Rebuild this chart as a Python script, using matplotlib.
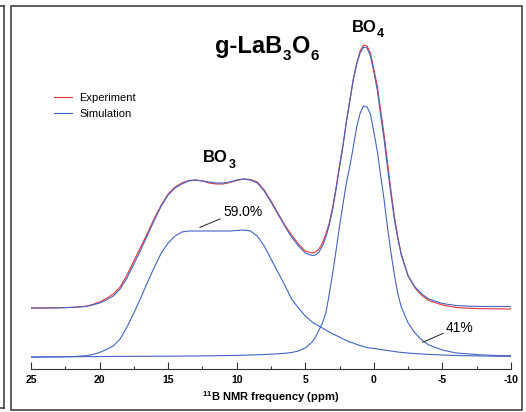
import matplotlib
matplotlib.use("Agg")
import matplotlib.pyplot as plt
from matplotlib.ticker import MultipleLocator
from matplotlib.patches import Rectangle
from matplotlib.lines import Line2D

plt.rcParams['font.family'] = ['Liberation Sans', 'DejaVu Sans']
plt.rcParams['mathtext.default'] = 'regular'
plt.rcParams['axes.unicode_minus'] = False

# chemical shift axis (ppm) and intensities
ppm = [25, 24, 23, 22, 21, 20.5, 20, 19.5, 19, 18.5, 18, 17.5, 17, 16.5, 16, 15.5,
       15, 14.5, 14, 13.5, 13, 12.5, 12, 11.5, 11, 10.5, 10, 9.5, 9, 8.5, 8, 7.5,
       7, 6.5, 6, 5.5, 5, 4.5, 4.25, 4, 3.75, 3.5, 3.25, 3, 2.75, 2.5, 2.25, 2, 1.75,
       1.5, 1.25, 1, 0.75, 0.5, 0.25, 0, -0.25, -0.5, -0.75, -1, -1.25, -1.5, -1.75,
       -2, -2.5, -3, -3.5, -4, -5, -6, -7, -8, -9, -10]

experiment = [49, 49, 49.2, 49.6, 50.8, 52.5, 55, 58.5, 63, 70, 82, 96, 110, 124, 139, 152,
              163, 170, 174, 176.5, 177, 176, 174, 173, 173, 174.5, 176.5, 178, 177.5, 175, 167, 156,
              144, 132, 122, 113, 106, 104, 105, 108, 114, 123, 134, 150, 170, 192, 212, 236, 257,
              278, 294, 306, 312, 311, 304, 288, 271, 246, 222, 194, 166, 140, 120,
              103, 81, 69, 61.5, 56.5, 52, 49.5, 48.7, 48.3, 48.2, 48]

simulation = [49, 49, 49.2, 49.6, 50.5, 52, 54, 57, 61, 68, 79, 93, 107, 122, 137, 151,
              162, 169, 173, 176, 177, 176, 175, 174, 174, 175, 177, 178, 177, 174, 166, 155,
              143, 131, 120, 111, 104, 101.5, 102, 105, 111, 120, 132, 148, 168, 190, 211, 235, 256,
              277, 293, 304, 310, 309, 301, 285, 267, 241, 217, 189, 162, 137, 118,
              102, 81, 70, 63, 58, 53.5, 51.5, 50.8, 50.5, 50.5, 50.5]

bo3 = [0, 0, 0.1, 0.4, 1.2, 2.5, 4.5, 7.5, 11, 18, 30, 44, 59, 75, 90, 104,
       114, 121, 125, 126, 126, 126, 126, 126, 126, 126, 126.5, 127, 126, 121, 111, 98,
       85, 72, 58, 49, 41, 35, 33, 31, 29, 27, 25, 23, 21.5, 20, 18, 16.5, 15,
       14, 12.5, 11.5, 10.5, 9.5, 9, 8.5, 8, 7.5, 7, 6.5, 6, 5.5, 5,
       4.6, 4, 3.4, 3, 2.6, 2, 1.5, 1.2, 1, 0.8, 0.6]

bo4 = [0, 0.1, 0.2, 0.3, 0.4, 0.4, 0.5, 0.5, 0.6, 0.6, 0.6, 0.7, 0.7, 0.7, 0.8, 0.8,
       0.8, 0.9, 0.9, 1, 1, 1.1, 1.2, 1.3, 1.4, 1.5, 1.6, 1.8, 2, 2.2, 2.5, 2.8,
       3.2, 3.7, 4.5, 6, 9, 15, 20, 27, 34, 44, 63, 84, 107, 131, 153, 174, 191,
       210, 230, 244, 251, 250, 243, 225, 206, 181, 157, 129, 104, 82, 63,
       50, 34, 24, 17, 12, 7, 4, 3, 2, 1.5, 1.2]

red = '#e2363a'
blue = '#4463c4'


def chem_label(ax, x, y, parts, size, subsize, drop):
    # formula written piece by piece so subscripts sit low like in the original
    first = ax.text(x, y, parts[0], fontsize=size, fontweight='bold', ha='left', va='bottom')
    prev = first
    for i, s in enumerate(parts[1:]):
        if i % 2 == 0:
            prev = ax.annotate(s, xy=(1, 0), xycoords=(prev, first), xytext=(0.3, -drop),
                               textcoords='offset points', fontsize=subsize,
                               fontweight='bold', va='baseline')
        else:
            prev = ax.annotate(s, xy=(1, 0), xycoords=(prev, first), xytext=(0.3, 0),
                               textcoords='offset points', fontsize=size,
                               fontweight='bold', va='bottom')


fig = plt.figure(figsize=(5.26, 4.12), dpi=100)
ax = fig.add_axes([31 / 526, 43 / 412, 480 / 526, 363 / 412])

ax.plot(ppm, experiment, color=red, lw=0.8, label='Experiment')
ax.plot(ppm, simulation, color=blue, lw=0.8, label='Simulation')
ax.plot(ppm, bo3, color=blue, lw=0.8)
ax.plot(ppm, bo4, color=blue, lw=0.8)

ax.set_xlim(25, -10)
ax.set_ylim(-12, 351)

for side in ['left', 'top', 'right']:
    ax.spines[side].set_visible(False)
ax.spines['bottom'].set_color('#333333')
ax.spines['bottom'].set_linewidth(0.8)
ax.set_yticks([])
ax.xaxis.set_major_locator(MultipleLocator(5))
ax.xaxis.set_minor_locator(MultipleLocator(2.5))
ax.tick_params(axis='x', which='major', direction='in', length=5, width=0.8,
               color='#333333', pad=4, labelsize=7.5)
ax.tick_params(axis='x', which='minor', direction='in', length=2.2, width=0.8,
               color='#333333')
for lab in ax.get_xticklabels():
    lab.set_fontweight('bold')
ax.set_xlabel('$^{11}$B NMR frequency (ppm)', fontsize=8, fontweight='bold', labelpad=3)

chem_label(ax, 11.55, 299, ['g-LaB', '3', 'O', '6'], 17, 11, 1.8)
chem_label(ax, 1.6, 322, ['BO', '4'], 12, 9, 1.6)
chem_label(ax, 12.45, 191.5, ['BO', '3'], 12, 9, 1.6)

ax.plot([12.68, 11.22], [129.7, 138], color='#222222', lw=0.7)
ax.text(11.0, 145, '59.0%', fontsize=10, ha='left', va='center')
ax.plot([-3.56, -5.06], [14.7, 23.7], color='#222222', lw=0.7)
ax.text(-5.25, 29.5, '41%', fontsize=10, ha='left', va='center')

ax.legend(loc='upper left', bbox_to_anchor=(54 / 526, 1 - 93 / 412),
          bbox_transform=fig.transFigure, frameon=False, fontsize=8,
          handlelength=1.6, handletextpad=0.7, labelspacing=0.5, borderpad=0,
          borderaxespad=0)

# panel frame and edge of the neighbouring panel
fig.add_artist(Rectangle((11 / 526, 2 / 412), 511 / 526, 404 / 412,
                         transform=fig.transFigure, fill=False,
                         edgecolor='#333333', lw=1.1))
fig.add_artist(Line2D([3.5 / 526, 3.5 / 526], [4 / 412, 406 / 412],
                      transform=fig.transFigure, color='#333333', lw=1.1))
fig.add_artist(Line2D([0, 3.5 / 526], [406 / 412, 406 / 412],
                      transform=fig.transFigure, color='#333333', lw=1.1))
fig.add_artist(Line2D([0, 3.5 / 526], [4 / 412, 4 / 412],
                      transform=fig.transFigure, color='#333333', lw=1.1))

fig.savefig('out.png', dpi=100)
